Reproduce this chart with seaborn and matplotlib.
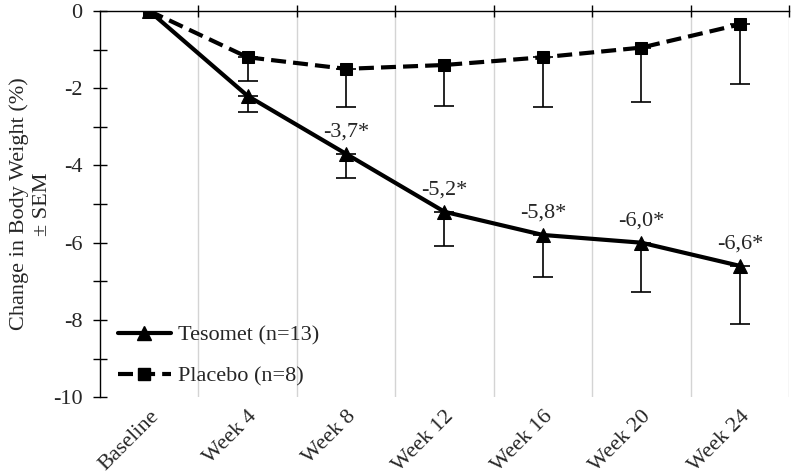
import matplotlib
matplotlib.use("Agg")
import matplotlib.pyplot as plt
import seaborn as sns
import pandas as pd
import numpy as np
from matplotlib.ticker import MultipleLocator, FixedLocator
from matplotlib.lines import Line2D

categories = ["Baseline", "Week 4", "Week 8", "Week 12", "Week 16", "Week 20", "Week 24"]
tesomet_mean = [0.0, -2.2, -3.7, -5.2, -5.8, -6.0, -6.6]
tesomet_sem = [0.0, 0.42, 0.63, 0.88, 1.1, 1.28, 1.5]
placebo_mean = [0.0, -1.2, -1.5, -1.4, -1.2, -0.95, -0.35]
placebo_sem = [0.0, 0.62, 1.0, 1.05, 1.3, 1.4, 1.55]
annotations = ["", "", "-3,7*", "-5,2*", "-5,8*", "-6,0*", "-6,6*"]
tesomet_label = "Tesomet (n=13)"
placebo_label = "Placebo (n=8)"

sns.set_style("white")
plt.rcParams["font.family"] = ["Liberation Serif", "DejaVu Serif"]
plt.rcParams["font.size"] = 16
plt.rcParams["axes.unicode_minus"] = False

FS = 16
DASH = (0, (3.6, 1.7))

df = pd.DataFrame({
    "pos": list(range(len(categories))) * 2,
    "value": tesomet_mean + placebo_mean,
    "err": tesomet_sem + placebo_sem,
    "group": [tesomet_label] * len(categories) + [placebo_label] * len(categories),
})

fig = plt.figure(figsize=(7.93, 4.74), dpi=100)
ax = fig.add_axes([0.126, 0.162, 0.869, 0.815])

# error bars (downward only)
for grp in [tesomet_label, placebo_label]:
    sub = df[(df["group"] == grp) & (df["err"] > 0)]
    ax.errorbar(sub["pos"], sub["value"], yerr=[sub["err"], np.zeros(len(sub))], fmt="none",
                ecolor="black", elinewidth=1.2, capsize=7, capthick=1.2, zorder=2)

sns.lineplot(data=df[df["group"] == tesomet_label], x="pos", y="value", ax=ax, color="black",
             linewidth=3, marker="^", markersize=9.5, markeredgecolor="black", zorder=3,
             legend=False)
sns.lineplot(data=df[df["group"] == placebo_label], x="pos", y="value", ax=ax, color="black",
             linewidth=3, marker="s", markersize=9, linestyle=DASH,
             markeredgecolor="black", zorder=4, legend=False)

for i, txt in enumerate(annotations):
    if txt:
        ax.annotate(txt, (i, tesomet_mean[i]), xytext=(0, 9), textcoords="offset points",
                    ha="center", va="bottom", fontsize=FS)

ax.set_xlim(-0.5, len(categories) - 0.5)
ax.set_ylim(-10, 0)

ax.xaxis.set_major_locator(FixedLocator(range(len(categories))))
ax.set_xticklabels(categories, rotation=45, ha="right", rotation_mode="anchor")
ax.xaxis.set_minor_locator(FixedLocator(np.arange(0.5, len(categories), 1.0)))
ax.tick_params(axis="x", which="major", length=0, pad=7, labelsize=FS)
ax.tick_params(axis="x", which="minor", top=True, bottom=False, direction="inout", length=9,
               width=1, color="black")
ax.grid(axis="x", which="minor", color="#d4d4d4", linewidth=1)
ax.grid(axis="x", which="major", visible=False)

ax.yaxis.set_major_locator(MultipleLocator(2))
ax.yaxis.set_minor_locator(MultipleLocator(1))
ax.tick_params(axis="y", which="both", left=True, direction="inout", length=10, width=1,
               color="black", labelsize=FS, pad=7.5)

for s in ["right", "bottom"]:
    ax.spines[s].set_visible(False)
for s in ["left", "top"]:
    ax.spines[s].set_color("black")
    ax.spines[s].set_linewidth(1)

ax.set_xlabel("")
ax.set_ylabel("Change in Body Weight (%)\n\u00b1 SEM", fontsize=FS, linespacing=1.25, labelpad=1)

handles = [
    Line2D([], [], color="black", linewidth=3, marker="^", markersize=9.5),
    Line2D([], [], color="black", linewidth=3, linestyle=DASH, marker="s", markersize=9),
]
ax.legend(handles, [tesomet_label, placebo_label], loc="lower left",
          bbox_to_anchor=(0.013, 0.005), frameon=False,
          handlelength=2.4, labelspacing=0.9, borderaxespad=0.0, handletextpad=0.3,
          fontsize=FS)

fig.savefig("out.png", dpi=100)
